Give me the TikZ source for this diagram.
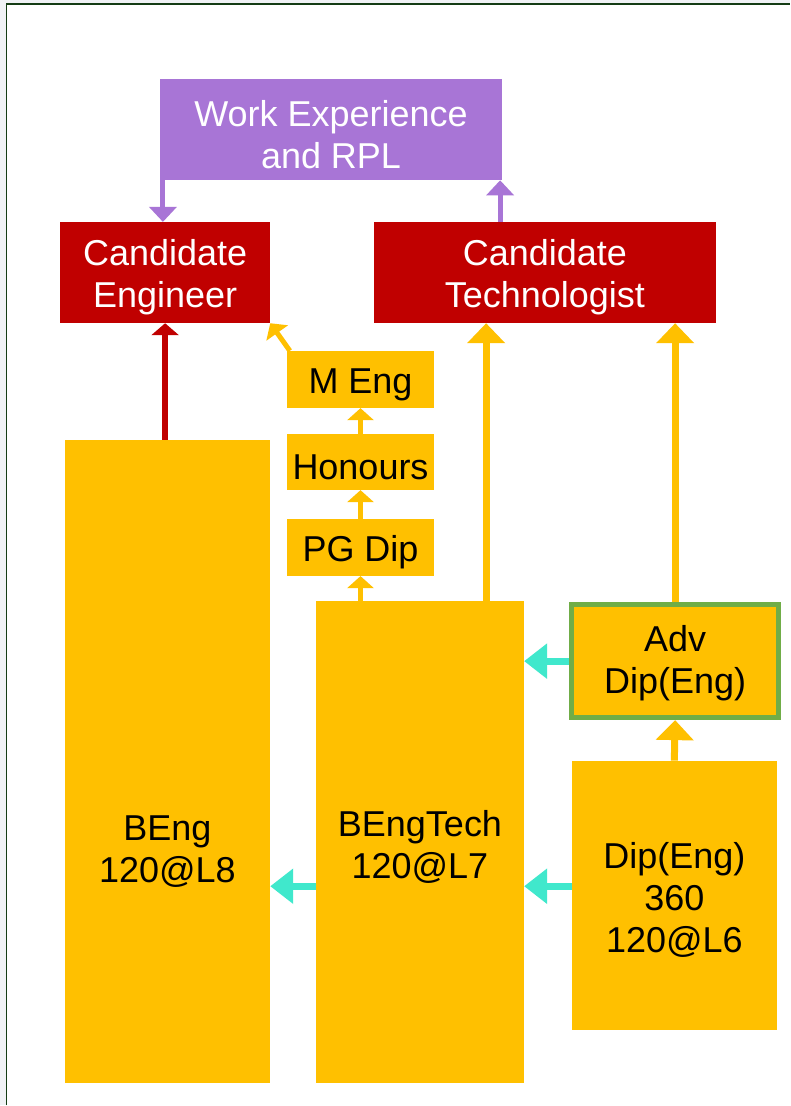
\documentclass[tikz,border=0pt]{standalone}
\usepackage{fontspec}
\setmainfont{Liberation Sans}
\usetikzlibrary{arrows.meta}
\definecolor{wkpurple}{RGB}{168,117,214}
\definecolor{cndred}{RGB}{192,0,0}
\definecolor{qualyellow}{RGB}{255,192,0}
\definecolor{frmgreen}{RGB}{112,173,71}
\definecolor{lvlcyan}{RGB}{64,232,204}
\definecolor{pagegrey}{RGB}{240,242,245}
\definecolor{edgegreen}{RGB}{20,60,20}
\begin{document}
\begin{tikzpicture}[x=1pt,y=-1pt,
  box/.style={anchor=north west,inner sep=0pt},
  txt/.style={inner sep=0pt,align=center,yshift=-5pt,font=\fontsize{36}{42}\selectfont},
  wbox/.style={box,fill=wkpurple,label={[txt,text=white]center:{#1}}},
  cbox/.style={box,fill=cndred,label={[txt,text=white]center:{#1}}},
  qbox/.style={box,fill=qualyellow,label={[txt]center:{#1}}},
  parrow/.style={wkpurple,line width=5pt,-{Triangle[width=27pt,length=15pt]}},
  rarrow/.style={cndred,line width=6pt,-{Triangle[width=27pt,length=12pt]}},
  yarrow/.style={qualyellow,line width=7pt,-{Triangle[width=37pt,length=20pt]}},
  ysmall/.style={qualyellow,line width=5pt,-{Triangle[width=26pt,length=12pt]}},
  carrow/.style={lvlcyan,line width=7pt,-{Triangle[width=34pt,length=23pt]}}]
\fill[pagegrey] (0,0) rectangle (790,1106);
\fill[white] (6.5,4) rectangle (790,1106);
\draw[edgegreen,line width=1.2pt] (6.5,1106) -- (6.5,4) -- (790,4);
\useasboundingbox (0,0) rectangle (790,1106);

\node[wbox={Work Experience\\and RPL},minimum width=342pt,minimum height=101pt] (wrpl) at (160,79) {};
\node[cbox={Candidate\\Engineer},minimum width=210pt,minimum height=101pt] (ceng) at (60,222) {};
\node[cbox={Candidate\\Technologist},minimum width=342pt,minimum height=101pt] (ctech) at (374,222) {};

\node[qbox={},minimum width=205pt,minimum height=643pt] (beng) at (65,440) {};
\node[txt,yshift=5pt] (bengtxt) at (167.5,852) {BEng\\120@L8};
\node[qbox={M Eng},minimum width=147pt,minimum height=57pt] (meng) at (287,351) {};
\node[qbox=Honours,minimum width=147pt,minimum height=56pt] (hons) at (287,434) {};
\node[qbox={PG Dip},minimum width=147pt,minimum height=57pt] (pgdip) at (287,519) {};
\node[qbox={BEngTech\\120@L7},minimum width=208pt,minimum height=482pt] (bengtech) at (316,601) {};
\node[box,fill=qualyellow,draw=frmgreen,line width=5pt,minimum width=207pt,minimum height=113pt,
  label={[txt,yshift=3pt]center:{Adv\\Dip(Eng)}}] (advdip) at (569.5,602.5) {};
\node[qbox={Dip(Eng)\\360\\120@L6},minimum width=205pt,minimum height=269pt] (dip) at (572,761) {};

\draw[parrow] ([xshift=3pt]wrpl.south west) -- ([xshift=3pt]wrpl.south west |- ceng.north);
\draw[parrow] ([xshift=-2pt]wrpl.south east |- ctech.north) -- ([xshift=-2pt]wrpl.south east);
\draw[rarrow] (ceng.south |- beng.north) -- (ceng.south);
\draw[yarrow] ([xshift=-38pt]bengtech.north east) -- ([xshift=-38pt]bengtech.north east |- ctech.south);
\draw[yarrow] (advdip.north) -- (advdip.north |- ctech.south);
\draw[yarrow] (dip.north) -- (advdip.south);
\draw[ysmall] ([xshift=3pt]meng.north west) -- (ceng.south east);
\draw[ysmall] (hons.north) -- (meng.south);
\draw[ysmall] (pgdip.north) -- (hons.south);
\draw[ysmall] (pgdip.south |- bengtech.north) -- (pgdip.south);

\coordinate (lvl) at ([yshift=9pt]dip.west);
\draw[carrow] (advdip.west) -- (advdip.west -| bengtech.east);
\draw[carrow] (lvl) -- (lvl -| bengtech.east);
\draw[carrow] (lvl -| bengtech.west) -- (lvl -| beng.east);
\end{tikzpicture}
\end{document}
